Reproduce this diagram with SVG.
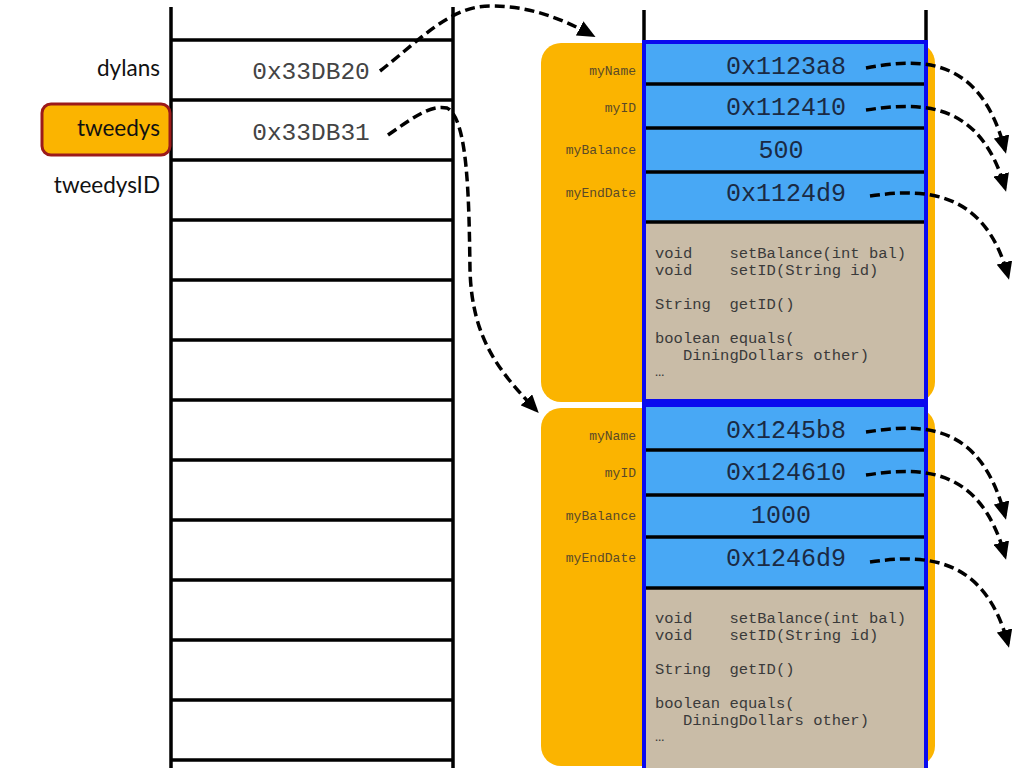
<svg xmlns="http://www.w3.org/2000/svg" width="1024" height="768" viewBox="0 0 1024 768">
<defs>
<style>
.stack{stroke:#000;stroke-width:3.5;fill:none}
.lbl{font-family:Lato,"Liberation Sans",sans-serif;font-size:22.5px;fill:#111;text-anchor:end}
.addr{font-family:"Liberation Mono","Courier New",monospace;font-size:24.5px;fill:#444;text-anchor:middle}
.obj{fill:#fbb400}
.field{fill:#48a8f5}
.meth{fill:#c9bca7}
.border{fill:none;stroke:#0a0aee;stroke-width:4}
.sep{stroke:#000;stroke-width:3.5}
.val{font-family:"Liberation Mono","Courier New",monospace;font-size:25px;fill:#1a2a44;text-anchor:middle}
.fl{font-family:"Liberation Mono","Courier New",monospace;font-size:13px;fill:#5a4a28;text-anchor:end}
.code{font-family:"Liberation Mono","Courier New",monospace;font-size:15.5px;fill:#3a3a3a}
.conn{fill:none;stroke:#000;stroke-width:3.5;stroke-dasharray:10 5;marker-end:url(#ah)}
</style>
<marker id="ah" viewBox="0 0 18 16" refX="14" refY="8" markerWidth="18" markerHeight="16" markerUnits="userSpaceOnUse" orient="auto">
<path d="M0,0 L18,8 L0,16 z" fill="#000"/>
</marker>
</defs>
<rect width="1024" height="768" fill="#fff"/>

<g id="stack">
<line class="stack" x1="171" y1="7" x2="171" y2="768"/>
<line class="stack" x1="453" y1="7" x2="453" y2="768"/>
<path class="stack" d="M171 40H453M171 100H453M171 160H453M171 220H453M171 280H453M171 340H453M171 400H453M171 460H453M171 520H453M171 580H453M171 640H453M171 700H453M171 760H453"/>
</g>

<g id="dylans">
<text class="lbl" x="160" y="76">dylans</text>
<text class="addr" x="311" y="79">0x33DB20</text>
</g>
<g id="tweedys">
<rect x="42" y="104" width="128" height="51" rx="9" fill="#fbb400" stroke="#9c1a1a" stroke-width="3"/>
<text class="lbl" x="160" y="136">tweedys</text>
<text class="addr" x="311" y="140">0x33DB31</text>
</g>
<g id="tweedysID">
<text class="lbl" x="160" y="193">tweedysID</text>
</g>

<g id="heap-lines">
<line class="stack" x1="644" y1="10" x2="644" y2="42"/>
<line class="stack" x1="926" y1="10" x2="926" y2="42"/>
</g>

<g id="object1">
<rect class="obj" x="541" y="43" width="394" height="359" rx="20"/>
<rect class="field" x="644" y="42" width="282" height="180"/>
<rect class="meth" x="644" y="222" width="282" height="179"/>
<line class="sep" x1="644" y1="84" x2="926" y2="84"/>
<line class="sep" x1="644" y1="128" x2="926" y2="128"/>
<line class="sep" x1="644" y1="172" x2="926" y2="172"/>
<line class="sep" x1="644" y1="222" x2="926" y2="222"/>
<rect class="border" x="644" y="42" width="282" height="359"/>
<text class="fl" x="636" y="75">myName</text>
<text class="fl" x="636" y="112">myID</text>
<text class="fl" x="636" y="154">myBalance</text>
<text class="fl" x="636" y="197">myEndDate</text>
<text class="val" x="786" y="74">0x1123a8</text>
<text class="val" x="786" y="115">0x112410</text>
<text class="val" x="781" y="158">500</text>
<text class="val" x="786" y="201">0x1124d9</text>
<text class="code" xml:space="preserve" x="655" y="258">void    setBalance(int bal)</text>
<text class="code" xml:space="preserve" x="655" y="275">void    setID(String id)</text>
<text class="code" xml:space="preserve" x="655" y="309">String  getID()</text>
<text class="code" xml:space="preserve" x="655" y="343">boolean equals(</text>
<text class="code" xml:space="preserve" x="655" y="360">   DiningDollars other)</text>
<text class="code" x="655" y="376" font-size="10">…</text>
</g>

<g id="object2">
<rect class="obj" x="541" y="408" width="394" height="358" rx="20"/>
<rect class="field" x="644" y="405" width="282" height="183"/>
<rect class="meth" x="644" y="588" width="282" height="182"/>
<line class="sep" x1="644" y1="450" x2="926" y2="450"/>
<line class="sep" x1="644" y1="495" x2="926" y2="495"/>
<line class="sep" x1="644" y1="537" x2="926" y2="537"/>
<line class="sep" x1="644" y1="588" x2="926" y2="588"/>
<rect class="border" x="644" y="405" width="282" height="370"/>
<text class="fl" x="636" y="440">myName</text>
<text class="fl" x="636" y="477">myID</text>
<text class="fl" x="636" y="520">myBalance</text>
<text class="fl" x="636" y="562">myEndDate</text>
<text class="val" x="786" y="438">0x1245b8</text>
<text class="val" x="786" y="480">0x124610</text>
<text class="val" x="781" y="523">1000</text>
<text class="val" x="786" y="566">0x1246d9</text>
<text class="code" xml:space="preserve" x="655" y="623">void    setBalance(int bal)</text>
<text class="code" xml:space="preserve" x="655" y="640">void    setID(String id)</text>
<text class="code" xml:space="preserve" x="655" y="674">String  getID()</text>
<text class="code" xml:space="preserve" x="655" y="708">boolean equals(</text>
<text class="code" xml:space="preserve" x="655" y="725">   DiningDollars other)</text>
<text class="code" x="655" y="741" font-size="10">…</text>
</g>

<g id="connectors">
<path class="conn" d="M380 71 C420 40 450 6 490 6 C530 6 560 18 592 35"/>
<path class="conn" d="M388 135 C410 120 430 104 447 108 C468 118 469 200 470 270 C472 340 500 372 536 410"/>
<path class="conn" d="M866 68 C920 58 980 55 1005 150"/>
<path class="conn" d="M866 110 C920 102 980 100 1005 188"/>
<path class="conn" d="M870 196 C925 188 985 190 1008 276"/>
<path class="conn" d="M866 432 C920 424 980 420 1005 516"/>
<path class="conn" d="M866 475 C920 467 980 465 1005 556"/>
<path class="conn" d="M870 562 C925 554 985 556 1008 644"/>
</g>
</svg>
